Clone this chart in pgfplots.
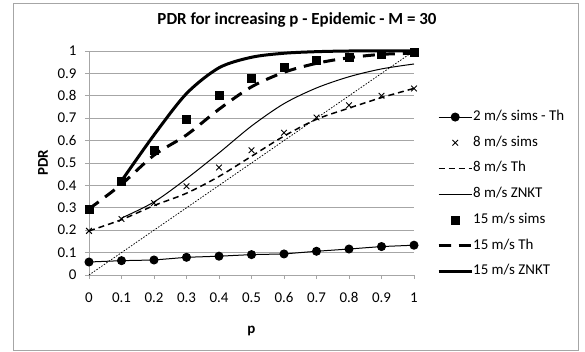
\documentclass[border=0pt]{standalone}
\usepackage{fontspec}
\setmainfont{Carlito}
\usepackage{pgfplots}
\pgfplotsset{compat=1.18}
\definecolor{gridgray}{HTML}{A6A6A6}
\pgfplotsset{
  lineleg/.style={legend image code/.code={\draw[mark repeat=2,mark phase=2,##1] plot coordinates {(0bp,0bp) (16.5bp,0bp) (33bp,0bp)};}},
  markleg/.style={legend image code/.code={\draw[##1] plot coordinates {(16.5bp,0bp)};}},
}
\begin{document}
\begin{tikzpicture}
\path (-89bp,-77bp) rectangle (496bp,275bp);
\draw[gridgray, line width=0.75bp] (-76bp,-75bp) rectangle (489bp,272bp);
\begin{axis}[
  at={(0,0)}, anchor=south west,
  scale only axis, width=325bp, height=224bp,
  xmin=0, xmax=1, ymin=0, ymax=1,
  xtick={0,0.1,0.2,0.3,0.4,0.5,0.6,0.7,0.8,0.9,1},
  ytick={0,0.1,0.2,0.3,0.4,0.5,0.6,0.7,0.8,0.9,1},
  /pgf/number format/assume math mode=true,
  /pgf/number format/fixed,
  ymajorgrids, grid style={gridgray, line width=0.75bp},
  axis x line=bottom, axis y line=left,
  axis line style={-, gridgray, line width=0.75bp},
  tick style={gridgray, line width=0.75bp},
  tick align=outside, major tick length=4bp,
  tick label style={font=\fontsize{15}{17}\selectfont, black},
  x tick label style={yshift=-10bp},
  y tick label style={xshift=-5bp},
  clip=false,
  title={\bfseries PDR for increasing p - Epidemic - M = 30},
  title style={font=\fontsize{17}{19}\selectfont, at={(0.64,1.11)}, anchor=center},
  xlabel={\bfseries p}, ylabel={\bfseries PDR},
  label style={font=\fontsize{15}{17}\selectfont},
  xlabel style={at={(0.5,-0.25)}, anchor=center},
  ylabel style={at={(-0.1415,0.5)}, anchor=center},
  legend cell align=left,
  legend style={at={(1.0708,0.735)}, anchor=north west, draw=none, fill=none,
    inner sep=0pt, row sep=12.7bp,
    font=\fontsize{15}{17}\selectfont,
    nodes={inner sep=0pt, text height=10bp, text depth=3bp}},
  lineleg,
]
% diagonal
\addplot[black, line width=0.75bp, dash pattern=on 1.5bp off 1.5bp, forget plot] coordinates {(0,0) (1,1)};
% 2 m/s
\addplot[black, line width=1bp, mark=*, mark size=4bp] coordinates {
(0,0.058)(0.1,0.064)(0.2,0.067)(0.3,0.079)(0.4,0.084)(0.5,0.091)(0.6,0.094)(0.7,0.106)(0.8,0.116)(0.9,0.127)(1,0.133)};
\addlegendentry{2 m/s sims - Th}
% 8 sims
\addplot[black, only marks, mark=x, mark size=4bp, line width=0.9bp, markleg] coordinates {
(0,0.197)(0.1,0.25)(0.2,0.321)(0.3,0.396)(0.4,0.48)(0.5,0.557)(0.6,0.635)(0.7,0.703)(0.8,0.758)(0.9,0.80)(1,0.833)};
\addlegendentry{8 m/s sims}
% 8 Th
\addplot[black, line width=1.5bp, dash pattern=on 6bp off 4bp, smooth] coordinates {
(0,0.197)(0.1,0.247)(0.2,0.31)(0.3,0.365)(0.4,0.44)(0.5,0.53)(0.6,0.62)(0.7,0.695)(0.8,0.745)(0.9,0.792)(1,0.833)};
\addlegendentry{8 m/s Th}
% 8 ZNKT
\addplot[black, line width=1bp, smooth] coordinates {
(0.1,0.254)(0.2,0.326)(0.3,0.43)(0.4,0.545)(0.5,0.665)(0.6,0.765)(0.7,0.835)(0.8,0.885)(0.9,0.92)(1,0.942)};
\addlegendentry{8 m/s ZNKT}
% 15 sims
\addplot[black, only marks, mark=square*, mark size=4bp, markleg] coordinates {
(0,0.295)(0.1,0.418)(0.2,0.556)(0.3,0.696)(0.4,0.803)(0.5,0.877)(0.6,0.927)(0.7,0.957)(0.8,0.972)(0.9,0.985)(1,0.994)};
\addlegendentry{15 m/s sims}
% 15 Th
\addplot[black, line width=3bp, dash pattern=on 12bp off 8bp, smooth] coordinates {
(0,0.295)(0.1,0.405)(0.2,0.535)(0.3,0.625)(0.4,0.74)(0.5,0.84)(0.6,0.905)(0.7,0.945)(0.8,0.97)(0.9,0.985)(1,0.99)};
\addlegendentry{15 m/s Th}
% 15 ZNKT
\addplot[black, line width=3bp, smooth] coordinates {
(0.1,0.42)(0.2,0.625)(0.3,0.81)(0.4,0.925)(0.5,0.972)(0.6,0.99)(0.7,0.997)(0.8,1)(0.9,1)(1,1)};
\addlegendentry{15 m/s ZNKT}
\end{axis}
\end{tikzpicture}
\end{document}
